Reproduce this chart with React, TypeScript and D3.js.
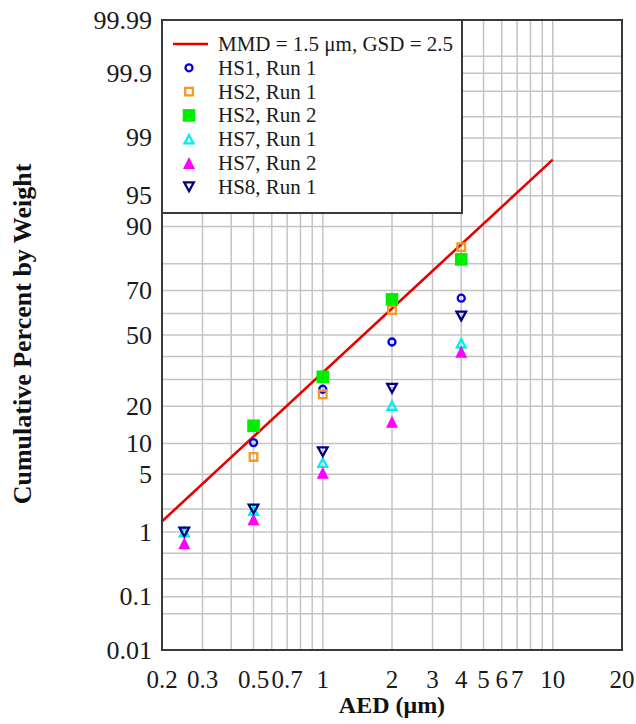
import React from "react";
import * as d3 from "d3";

// ---------- data ----------
const sizes = [0.25, 0.5, 1, 2, 4];
const hs1Run1 = [null, 10.2, 26.1, 46.7, 66.8];
const hs2Run1 = [null, 7.5, 24.2, 61.6, 85.0];
const hs2Run2 = [null, 14.2, 31.1, 66.3, 81.4];
const hs7Run1 = [1.0, 1.9, 6.6, 20.2, 46.1];
const hs7Run2 = [0.7, 1.48, 5.2, 15.3, 42.2];
const hs8Run1 = [1.0, 2.0, 8.4, 26.5, 58.9];

// model line MMD = 1.5 um, GSD = 2.5 (end points)
const modelX = [0.2, 10];
const modelP = [1.39, 98.08];

const xTickLabels = [0.2, 0.3, 0.5, 0.7, 1, 2, 3, 4, 5, 6, 7, 10, 20];
const xGridValues = [0.3, 0.4, 0.5, 0.6, 0.7, 0.8, 0.9, 1, 2, 3, 4, 5, 6, 7, 8, 9, 10];
const yTickLabels = [99.99, 99.9, 99, 95, 90, 70, 50, 20, 10, 5, 1, 0.1, 0.01];
const yGridValues = [
  0.05, 0.1, 0.2, 0.5, 1, 2, 5, 10, 20, 30, 40, 50, 60, 70, 80, 90, 95, 98, 99,
  99.5, 99.8, 99.9, 99.95,
];

const legendLabels = [
  "MMD = 1.5 \u03bcm, GSD = 2.5",
  "HS1, Run 1",
  "HS2, Run 1",
  "HS2, Run 2",
  "HS7, Run 1",
  "HS7, Run 2",
  "HS8, Run 1",
];
const xTitle = "AED (\u03bcm)";
const yTitle = "Cumulative Percent by Weight";

// ---------- helpers ----------
function probit(p: number): number {
  const a = [-3.969683028665376e1, 2.209460984245205e2, -2.759285104469687e2, 1.38357751867269e2, -3.066479806614716e1, 2.506628277459239];
  const b = [-5.447609879822406e1, 1.615858368580409e2, -1.556989798598866e2, 6.680131188771972e1, -1.328068155288572e1];
  const c = [-7.784894002430293e-3, -3.223964580411365e-1, -2.400758277161838, -2.549732539343734, 4.374664141464968, 2.938163982698783];
  const d = [7.784695709041462e-3, 3.224671290700398e-1, 2.445134137142996, 3.754408661907416];
  const pl = 0.02425;
  let q: number, r: number;
  if (p < pl) {
    q = Math.sqrt(-2 * Math.log(p));
    return (((((c[0] * q + c[1]) * q + c[2]) * q + c[3]) * q + c[4]) * q + c[5]) /
      ((((d[0] * q + d[1]) * q + d[2]) * q + d[3]) * q + 1);
  } else if (p <= 1 - pl) {
    q = p - 0.5;
    r = q * q;
    return ((((((a[0] * r + a[1]) * r + a[2]) * r + a[3]) * r + a[4]) * r + a[5]) * q) /
      (((((b[0] * r + b[1]) * r + b[2]) * r + b[3]) * r + b[4]) * r + 1);
  } else {
    q = Math.sqrt(-2 * Math.log(1 - p));
    return -(((((c[0] * q + c[1]) * q + c[2]) * q + c[3]) * q + c[4]) * q + c[5]) /
      ((((d[0] * q + d[1]) * q + d[2]) * q + d[3]) * q + 1);
  }
}

const W = 636, H = 724;
const L = 162, R = 622, T = 20, B = 650;

const xScale = d3.scaleLog().domain([0.2, 20]).range([L, R]);
const zScale = d3.scaleLinear().domain([probit(0.0001), probit(0.9999)]).range([B, T]);
const yScale = (pct: number) => zScale(probit(pct / 100));

const FONT = "'Liberation Serif', 'Times New Roman', Times, serif";

type Kind = "circle" | "sqOpen" | "sqFill" | "triOpen" | "triFill" | "triDown";

function markerPath(kind: Kind): string {
  switch (kind) {
    case "circle": {
      const r = 3.5;
      return `M${-r},0A${r},${r} 0 1,0 ${r},0A${r},${r} 0 1,0 ${-r},0Z`;
    }
    case "sqOpen": {
      const s = 3.8;
      return `M${-s},${-s}H${s}V${s}H${-s}Z`;
    }
    case "sqFill": {
      const s = 6.3;
      return `M${-s},${-s}H${s}V${s}H${-s}Z`;
    }
    case "triOpen": {
      const w = 4.4, h = 4.2;
      return `M0,${-h}L${w},${h}L${-w},${h}Z`;
    }
    case "triFill": {
      const w = 6, h = 6;
      return `M0,${-h}L${w},${h}L${-w},${h}Z`;
    }
    case "triDown": {
      const w = 4.8, h = 4.4;
      return `M0,${h}L${w},${-h}L${-w},${-h}Z`;
    }
  }
}

const seriesDefs: { values: (number | null)[]; kind: Kind; color: string; filled: boolean }[] = [
  { values: hs1Run1, kind: "circle", color: "#0000dd", filled: false },
  { values: hs2Run1, kind: "sqOpen", color: "#f39a22", filled: false },
  { values: hs2Run2, kind: "sqFill", color: "#00ee00", filled: true },
  { values: hs7Run1, kind: "triOpen", color: "#00f0f0", filled: false },
  { values: hs7Run2, kind: "triFill", color: "#ff00ff", filled: true },
  { values: hs8Run1, kind: "triDown", color: "#000080", filled: false },
];

function Marker({ kind, color, filled, x, y }: { kind: Kind; color: string; filled: boolean; x: number; y: number }) {
  return (
    <path
      d={markerPath(kind)}
      transform={`translate(${x},${y})`}
      fill={filled ? color : "none"}
      stroke={filled ? "none" : color}
      strokeWidth={2.3}
    />
  );
}

export default function App() {
  const line = d3
    .line<number>()
    .x((_, i) => xScale(modelX[i]))
    .y((_, i) => yScale(modelP[i]));

  const legX0 = L, legX1 = 462, legY0 = T, legY1 = 213;
  const rowY = (i: number) => 44 + i * 23.8;

  return (
    <svg
      width={W}
      height={H}
      viewBox={`0 0 ${W} ${H}`}
      style={{ position: "absolute", left: 0, top: 0, background: "#fff" }}
      fontFamily={FONT}
    >
      <rect x={0} y={0} width={W} height={H} fill="#fff" />
      {/* grid */}
      <g stroke="#c4c4c4" strokeWidth={1.5}>
        {xGridValues.map((v) => (
          <line key={"xg" + v} x1={xScale(v)} x2={xScale(v)} y1={T} y2={B} />
        ))}
        {yGridValues.map((v) => (
          <line key={"yg" + v} x1={L} x2={R} y1={yScale(v)} y2={yScale(v)} />
        ))}
      </g>

      {/* model line */}
      <path d={line(modelX) || ""} fill="none" stroke="#e60000" strokeWidth={2.6} />

      {/* data */}
      {seriesDefs.map((s, si) => (
        <g key={"s" + si}>
          {s.values.map((v, i) =>
            v == null ? null : (
              <Marker key={i} kind={s.kind} color={s.color} filled={s.filled} x={xScale(sizes[i])} y={yScale(v)} />
            )
          )}
        </g>
      ))}

      {/* frame */}
      <rect x={L} y={T} width={R - L} height={B - T} fill="none" stroke="#3a3a3a" strokeWidth={2} />

      {/* legend */}
      <rect x={legX0} y={legY0} width={legX1 - legX0} height={legY1 - legY0} fill="#fff" stroke="#3a3a3a" strokeWidth={2} />
      <line x1={173} x2={208} y1={rowY(0)} y2={rowY(0)} stroke="#e60000" strokeWidth={2.6} />
      {seriesDefs.map((s, i) => (
        <Marker key={"lm" + i} kind={s.kind} color={s.color} filled={s.filled} x={189} y={rowY(i + 1)} />
      ))}
      {legendLabels.map((t, i) => (
        <text key={"lt" + i} x={218} y={rowY(i) + 7} fontSize={21} fill="#1a1a1a">
          {t}
        </text>
      ))}

      {/* y tick labels */}
      {yTickLabels.map((v) => (
        <text key={"yl" + v} x={152} y={yScale(v) + 8.5} fontSize={26} textAnchor="end" fill="#1a1a1a">
          {String(v)}
        </text>
      ))}

      {/* x tick labels */}
      {xTickLabels.map((v) => (
        <text key={"xl" + v} x={xScale(v)} y={688} fontSize={25} textAnchor="middle" fill="#1a1a1a">
          {String(v)}
        </text>
      ))}

      {/* axis titles */}
      <text
        transform={`translate(31,334) rotate(-90)`}
        textAnchor="middle"
        fontSize={26}
        fontWeight="bold"
        fill="#111"
      >
        {yTitle}
      </text>
      <text x={392} y={713} textAnchor="middle" fontSize={24} fontWeight="bold" fill="#111">
        {xTitle}
      </text>
    </svg>
  );
}
